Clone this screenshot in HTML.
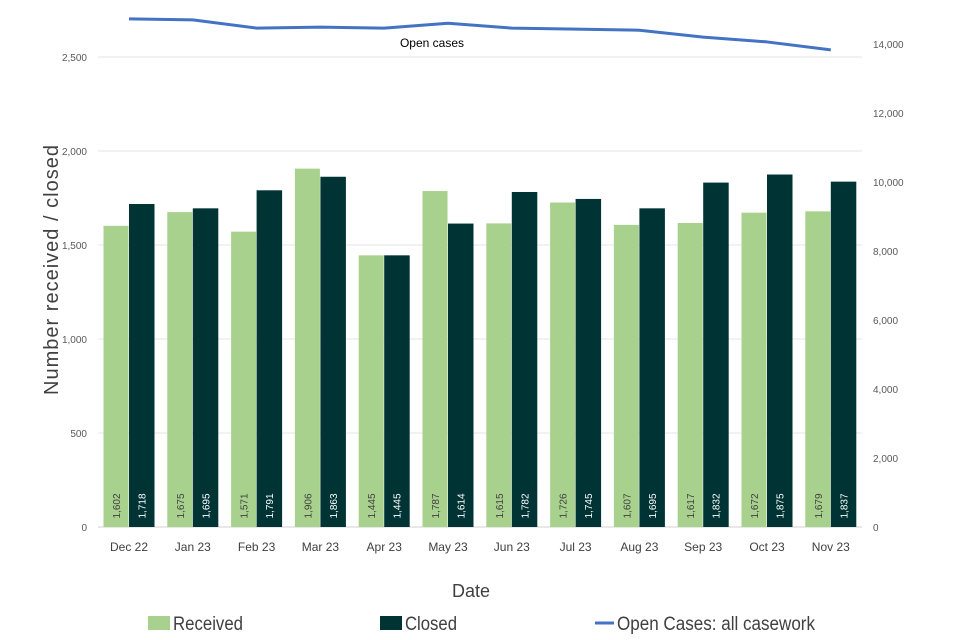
<!DOCTYPE html>
<html><head><meta charset="utf-8"><style>
body{margin:0;background:#fff;}
svg{display:block;font-family:"Liberation Sans",sans-serif;}
</style></head><body>
<svg id="chart" width="960" height="640"></svg>
<script>
const categories=["Dec 22","Jan 23","Feb 23","Mar 23","Apr 23","May 23","Jun 23","Jul 23","Aug 23","Sep 23","Oct 23","Nov 23"];
const received=[1602,1675,1571,1906,1445,1787,1615,1726,1607,1617,1672,1679];
const closed=[1718,1695,1791,1863,1445,1614,1782,1745,1695,1832,1875,1837];
const openCases=[14730,14700,14460,14490,14460,14600,14460,14430,14400,14200,14060,13830];
const leftTicks=[0,500,1000,1500,2000,2500];
const rightTicks=[0,2000,4000,6000,8000,10000,12000,14000];
const NS="http://www.w3.org/2000/svg";
const svg=document.getElementById('chart');
function el(t,a,txt){const e=document.createElementNS(NS,t);for(const k in a)e.setAttribute(k,a[k]);if(txt!==undefined)e.textContent=txt;svg.appendChild(e);return e;}
const y0=527;
const yL=v=>y0-v*94/500;
const yR=v=>y0-v*483/14000;
const xC=i=>129+i*63.8;
const fmt=v=>v.toLocaleString('en-US');
leftTicks.forEach(t=>{
 const g=el('line',{x1:98,x2:862,y1:yL(t),y2:yL(t),stroke:t===0?'#d0d0d0':'#e4e4e4','stroke-width':1});
 
 
 const l=el('text',{x:87,y:yL(t)+4,'text-anchor':'end','font-size':10,fill:'#595959'},fmt(t));
 
 
});
rightTicks.forEach(t=>{
 const l=el('text',{x:873,y:yR(t)+4,'font-size':10,fill:'#595959'},fmt(t));
 
 
});
categories.forEach((c,i)=>{
 const x=xC(i);
 const r=el('rect',{x:x-25.5,y:yL(received[i]),width:25,height:y0-yL(received[i]),fill:'#a9d18e'});
 
 
 const b=el('rect',{x:x,y:yL(closed[i]),width:25.5,height:y0-yL(closed[i]),fill:'#003333'});
 
 
 const t1=el('text',{transform:`translate(${x-9},506) rotate(-90)`,'text-anchor':'middle','font-size':10,fill:'#404040'},fmt(received[i]));
 
 
 const t2=el('text',{transform:`translate(${x+16.5},506) rotate(-90)`,'text-anchor':'middle','font-size':10,fill:'#ffffff'},fmt(closed[i]));
 
 
 const cl=el('text',{x:x,y:551,'text-anchor':'middle','font-size':12,fill:'#404040'},c);
 
 
});
const pts=openCases.map((v,i)=>xC(i)+','+yR(v)).join(' ');
const pl=el('polyline',{points:pts,fill:'none',stroke:'#4472c4','stroke-width':3,'stroke-linejoin':'round'});


const ol=el('text',{x:432,y:47,'text-anchor':'middle','font-size':12,fill:'#000'},'Open cases');


const yt=el('text',{transform:'translate(58,270) rotate(-90)','text-anchor':'middle','font-size':20,fill:'#404040',textLength:250,lengthAdjust:'spacing'},'Number received / closed');


const xt=el('text',{x:471,y:597,'text-anchor':'middle','font-size':18,fill:'#404040'},'Date');


const s1=el('rect',{x:148,y:616,width:22,height:14,fill:'#a9d18e'});


const l1=el('text',{x:173,y:630,'font-size':19,fill:'#404040',textLength:70,lengthAdjust:'spacingAndGlyphs'},'Received');


const s2=el('rect',{x:380,y:616,width:22,height:14,fill:'#003333'});


const l2=el('text',{x:405,y:630,'font-size':19,fill:'#404040',textLength:52,lengthAdjust:'spacingAndGlyphs'},'Closed');


const s3=el('line',{x1:595,x2:614,y1:623,y2:623,stroke:'#4472c4','stroke-width':3});


const l3=el('text',{x:617,y:630,'font-size':19,fill:'#404040',textLength:198,lengthAdjust:'spacingAndGlyphs'},'Open Cases: all casework');


</script>
</body></html>
